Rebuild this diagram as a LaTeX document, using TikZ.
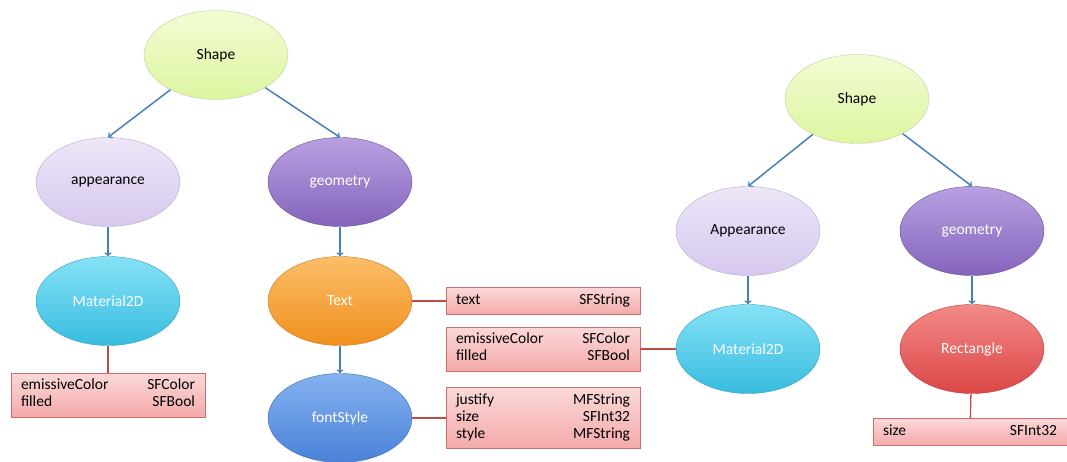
\documentclass[tikz,border=0pt]{standalone}
\usepackage{fontspec}
\setmainfont{Carlito}
\usetikzlibrary{shapes.geometric}
\definecolor{arrowblue}{HTML}{4A7EBB}
\definecolor{linered}{HTML}{BE4B48}
\definecolor{greentop}{HTML}{F2FCD4}
\definecolor{greenbot}{HTML}{DDF5A0}
\definecolor{lilactop}{HTML}{EEE6F8}
\definecolor{lilacbot}{HTML}{D6C8EE}
\definecolor{purpletop}{HTML}{B8A0E2}
\definecolor{purplebot}{HTML}{8464BC}
\definecolor{cyantop}{HTML}{86E2F6}
\definecolor{cyanbot}{HTML}{38BCE0}
\definecolor{orangetop}{HTML}{FBBE68}
\definecolor{orangebot}{HTML}{F0901E}
\definecolor{bluetop}{HTML}{84B2F0}
\definecolor{bluebot}{HTML}{4A82D8}
\definecolor{redtop}{HTML}{F28A88}
\definecolor{redbot}{HTML}{DC4646}
\definecolor{pinktop}{HTML}{FBD8D8}
\definecolor{pinkbot}{HTML}{F4AAAA}
\newcommand{\fieldrows}[1]{\begin{tabular*}{174pt}{@{}l@{\extracolsep{\fill}}r@{}}#1\end{tabular*}}
\begin{document}
\begin{tikzpicture}[x=1pt,y=-1pt,
	oval/.style={ellipse, minimum width=144pt, minimum height=89pt, inner sep=0pt, font=\fontsize{15.5}{17}\selectfont},
	shapeoval/.style={oval, draw=greenbot!70!black!60, top color=greentop, bottom color=greenbot},
	lightoval/.style={oval, draw=lilacbot!70!black!70, top color=lilactop, bottom color=lilacbot},
	darkoval/.style={oval, draw=purplebot!80!black, top color=purpletop, bottom color=purplebot, text=white},
	cyanoval/.style={oval, draw=cyanbot!85!black, top color=cyantop, bottom color=cyanbot, text=white},
	orangeoval/.style={oval, draw=orangebot!85!black, top color=orangetop, bottom color=orangebot, text=white},
	blueoval/.style={oval, draw=bluebot!85!black, top color=bluetop, bottom color=bluebot, text=white},
	redoval/.style={oval, draw=redbot!85!black, top color=redtop, bottom color=redbot, text=white},
	fields/.style={rectangle, draw=linered!80, top color=pinktop, bottom color=pinkbot, inner xsep=10pt, inner ysep=5pt, font=\fontsize{15.5}{17}\selectfont},
	arr/.style={->, arrowblue, line width=1.5pt},
	link/.style={linered, line width=1.3pt}]
\useasboundingbox (0,0) rectangle (1067,462);
% left tree
\def\xA{108};
\def\xB{340};
	\node[shapeoval] (shapeL) at (216,55) {Shape};
	\node[lightoval] (appL) at (\xA,182) {appearance};
	\node[darkoval] (geoL) at (\xB,182) {geometry};
	\node[cyanoval] (matL) at (\xA,301) {Material2D};
	\node[orangeoval] (text) at (\xB,301) {Text};
	\node[blueoval] (font) at (\xB,418) {fontStyle};
	\node[fields] (matLbox) at (\xA,395) {\fieldrows{emissiveColor & SFColor\\ filled & SFBool}};
	\node[fields] (textbox) at (543,301) {\fieldrows{text & SFString}};
	\node[fields] (fontbox) at (543,418) {\fieldrows{justify & MFString\\ size & SFInt32\\ style & MFString}};
	\draw[arr] (shapeL) -- (appL.north);
	\draw[arr] (shapeL) -- (geoL.north);
	\draw[arr] (appL) -- (matL);
	\draw[arr] (geoL) -- (text);
	\draw[arr] (text) -- (font);
	\draw[link] (matL) -- (matLbox);
	\draw[link] (text) -- (textbox);
	\draw[link] (font) -- (fontbox);
% right tree
\def\xC{748};
\def\xD{972};
	\node[shapeoval] (shapeR) at (857,99) {Shape};
	\node[lightoval] (appR) at (\xC,231) {Appearance};
	\node[darkoval] (geoR) at (\xD,231) {geometry};
	\node[cyanoval] (matR) at (\xC,349) {Material2D};
	\node[redoval] (rect) at (\xD,349) {Rectangle};
	\node[fields] (matRbox) at (543,349) {\fieldrows{emissiveColor & SFColor\\ filled & SFBool}};
	\node[fields] (rectbox) at (970,432) {\fieldrows{size & SFInt32}};
	\draw[arr] (shapeR) -- (appR.north);
	\draw[arr] (shapeR) -- (geoR.north);
	\draw[arr] (appR) -- (matR);
	\draw[arr] (geoR) -- (rect);
	\draw[link] (matR) -- (matRbox);
	\draw[link] (rect) -- (rectbox);
\end{tikzpicture}
\end{document}
